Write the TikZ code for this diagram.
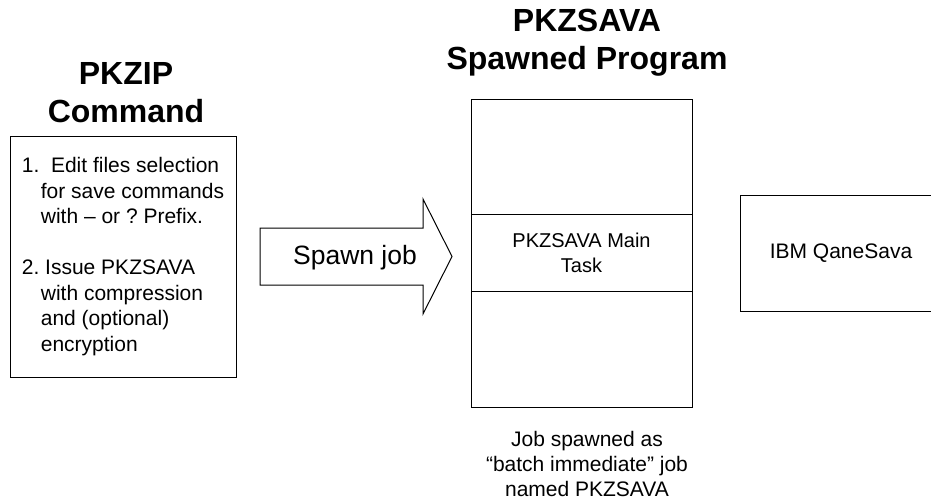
\documentclass[tikz,border=0pt]{standalone}
\usepackage{fontspec}
\setmainfont{Liberation Sans}
\usepackage{tikz}
\frenchspacing

\begin{document}
\begin{tikzpicture}[x=1pt,y=-1pt,
    box/.style={draw,line width=1pt,inner sep=0pt},
    body/.style={font=\fontsize{21}{25.5}\selectfont,inner sep=0pt},
    head/.style={font=\bfseries\fontsize{32}{38.5}\selectfont,inner sep=0pt,align=center}]
  \useasboundingbox (0,0) rectangle (931,501);
    % headings
    \node [head] (pkzip) at (126,92.5) {PKZIP\\Command};
    \node [head] (pkzsava) at (587,42.75) {PKZSAVA\\Spawned Program};
    % PKZIP command box
    \node [box,body,align=left,minimum width=226pt,minimum height=241pt] (cmdbox) at (123,256.5)
      {1.\ \ Edit files selection\\
       \hspace*{19pt}for save commands\\
       \hspace*{19pt}with – or ? Prefix.\\[25.5pt]
       2. Issue PKZSAVA\\
       \hspace*{19pt}with compression\\
       \hspace*{19pt}and (optional)\\
       \hspace*{19pt}encryption};
    % spawn arrow
    \draw [line width=1pt,line join=miter] (260,228) -- (423,228) -- (423,199) -- (452,256.5)
      -- (423,314) -- (423,285) -- (260,285) -- cycle;
    \node [body,font=\fontsize{26.5}{30}\selectfont] (spawn) at (355,258) {Spawn job};
    % PKZSAVA program column
    \node [box,minimum width=221pt,minimum height=115pt] (tasktop) at (581.5,156.5) {};
    \node [box,body,font=\fontsize{20}{25}\selectfont,align=center,minimum width=221pt,minimum height=77pt]
      (taskmain) at (581.5,252.5) {PKZSAVA Main\\Task};
    \node [box,minimum width=221pt,minimum height=116pt] (taskbottom) at (581.5,349) {};
    \node [body,align=center,font=\fontsize{21}{25}\selectfont] (note) at (587,463.5)
      {Job spawned as\\“batch immediate” job\\named PKZSAVA};
    % QaneSava box
    \node [box,body,minimum width=202pt,minimum height=116pt] (qanesava) at (841,253) {IBM QaneSava};
\end{tikzpicture}
\end{document}
